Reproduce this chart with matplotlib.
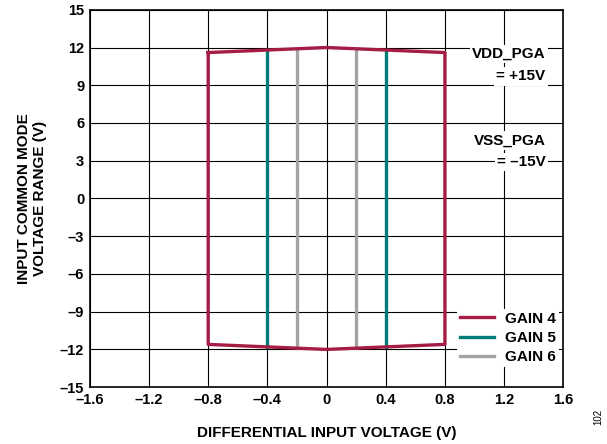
import matplotlib.pyplot as plt
import numpy as np

plt.rcParams['font.family'] = ['Liberation Sans', 'DejaVu Sans']
plt.rcParams['font.weight'] = 'bold'
plt.rcParams['axes.labelweight'] = 'bold'

# data
gain4_x = [-0.8, 0.0, 0.8, 0.8, 0.0, -0.8, -0.8]
gain4_y = [11.6, 12.0, 11.6, -11.6, -12.0, -11.6, 11.6]
gain5_x = [-0.4, 0.4]
gain5_top = [11.8, 11.8]
gain5_bot = [-11.8, -11.8]
gain6_x = [-0.2, 0.2]
gain6_top = [11.9, 11.9]
gain6_bot = [-11.9, -11.9]

xticks = np.arange(-1.6, 1.61, 0.4)
yticks = np.arange(-15, 16, 3)

c4 = '#A51C45'
c5 = '#007C78'
c6 = '#A3A3A3'

fig = plt.figure(figsize=(6.07, 4.44), dpi=100)
ax = fig.add_axes([0.148, 0.128, 0.78, 0.85])

# gain 6 and 5 vertical lines
for i in range(2):
    ax.plot([gain6_x[i], gain6_x[i]], [gain6_bot[i], gain6_top[i]], color=c6, lw=2.4,
            label='GAIN 6' if i == 0 else None, zorder=3)
    ax.plot([gain5_x[i], gain5_x[i]], [gain5_bot[i], gain5_top[i]], color=c5, lw=2.4,
            label='GAIN 5' if i == 0 else None, zorder=4)
ax.plot(gain4_x, gain4_y, color=c4, lw=2.4, label='GAIN 4', zorder=5)

ax.set_xlim(-1.6, 1.6)
ax.set_ylim(-15, 15)
ax.set_xticks(xticks)
ax.set_yticks(yticks)
ax.set_xticklabels(['–1.6', '–1.2', '–0.8', '–0.4', '0', '0.4', '0.8', '1.2', '1.6'])
ax.set_yticklabels(['–15', '–12', '–9', '–6', '–3', '0', '3', '6', '9', '12', '15'])
ax.tick_params(labelsize=10.5, length=0, pad=4)
ax.grid(True, color='black', lw=0.8)
for s in ax.spines.values():
    s.set_linewidth(1.2)

ax.set_xlabel('DIFFERENTIAL INPUT VOLTAGE (V)', fontsize=11, labelpad=14)
ax.set_ylabel('INPUT COMMON MODE\nVOLTAGE RANGE (V)', fontsize=11, labelpad=9)

# annotations
for txt, y in [('VDD_PGA', 11.5), ('= +15V', 9.7), ('VSS_PGA', 4.6), ('= –15V', 2.9)]:
    ax.text(1.48, y, txt, ha='right', va='center', fontsize=11,
            bbox=dict(facecolor='white', edgecolor='none', pad=1.5), zorder=6)

handles, labels = ax.get_legend_handles_labels()
order = [labels.index('GAIN 4'), labels.index('GAIN 5'), labels.index('GAIN 6')]
leg = ax.legend([handles[i] for i in order], [labels[i] for i in order],
                loc='lower right', bbox_to_anchor=(1.0, 0.04), frameon=True,
                fontsize=11, handlelength=2.2, labelspacing=0.35, borderpad=0.2,
                handletextpad=0.7, borderaxespad=0.3)
leg.get_frame().set_edgecolor('none')
leg.get_frame().set_alpha(1)
leg.set_zorder(7)

fig.text(0.985, 0.06, '102', rotation=90, fontsize=7, fontweight='normal', ha='center', va='center')

fig.savefig('out.png', dpi=100)
